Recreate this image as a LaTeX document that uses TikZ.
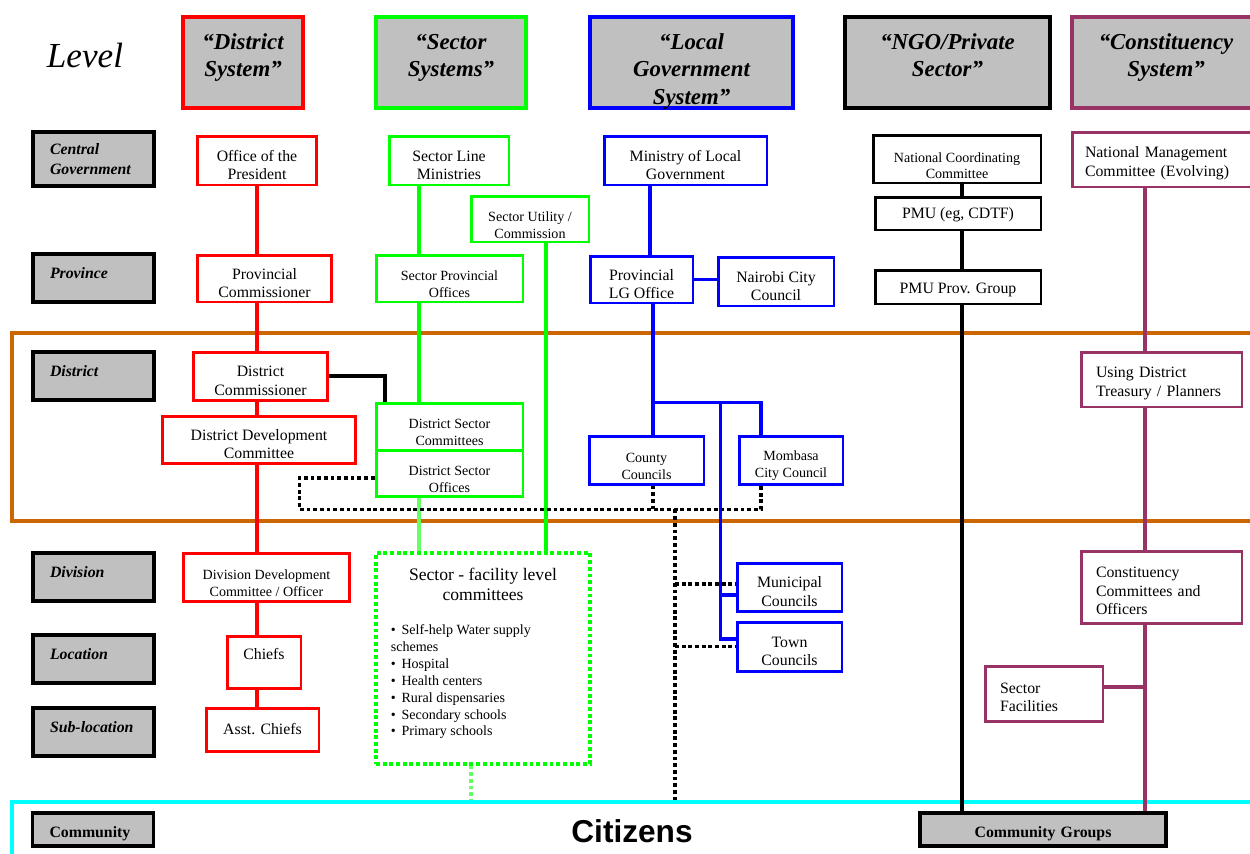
\documentclass[tikz,border=0pt]{standalone}
\usepackage{fontspec}
\setmainfont{Liberation Serif}
\newfontfamily\citfont{Liberation Sans}

\begin{document}
\begin{tikzpicture}[x=0.02cm, y=-0.02cm,
    hdr/.style={draw, line width=2.2pt, fill=hgray, minimum width=#1, minimum height=1.82cm},
    hdrtext/.style={align=center, font=\fontsize{13}{15.4}\selectfont\bfseries\itshape},
    lvl/.style={draw, line width=2pt, fill=hgray, text width=1.74cm, align=left, minimum width=2.42cm, minimum height=#1,
        font=\fontsize{9}{11.4}\selectfont\bfseries\itshape},
    lvlone/.style={lvl=#1, text height=7pt, text depth=6.7pt},
    orgbox/.style={draw, line width=1.7pt, fill=white, align=center, inner ysep=0pt, font=\fontsize{9}{10.6}\selectfont,
        execute at begin node={\rule{0pt}{22pt}}},
    smallbox/.style={orgbox, font=\fontsize{8}{9.7}\selectfont, execute at begin node={\rule{0pt}{17.6pt}}},
    onebox/.style={orgbox, execute at begin node={}},
    leftbox/.style={draw, line width=1.7pt, fill=white, align=left, font=\fontsize{9}{10.6}\selectfont,
        execute at begin node={\rule{0pt}{10.5pt}}},
    conn/.style={line width=1.9pt},
    dotline/.style={line width=1.8pt, dash pattern=on 2.2pt off 1.6pt}
]

    \definecolor{hgray}{RGB}{192,192,192}
    \definecolor{sgreen}{RGB}{0,255,0}
    \definecolor{lgreen}{RGB}{102,255,102}
    \definecolor{cpurple}{RGB}{153,51,102}
    \definecolor{corange}{RGB}{204,102,0}
    \definecolor{ccyan}{RGB}{0,255,255}
    \useasboundingbox (0,0) rectangle (1250,853);

    % district band
    \draw [line width=1.8pt, corange] (12,333) rectangle (1262,521);

    % headers
    \node (level) at (85,55) [font=\fontsize{20}{24}\selectfont\itshape] {Level};
    \node (hdist) at (243,62.5) [hdr=2.4cm, draw=red] {};
    \node (hsect) at (451,62.5) [hdr=3cm, draw=sgreen] {};
    \node (hloc) at (691.5,62.5) [hdr=4.06cm, draw=blue] {};
    \node (hngo) at (947.5,62.5) [hdr=4.1cm, draw=black] {};
    \node (hcon) at (1166,62.5) [hdr=3.76cm, draw=cpurple] {};
    \node (hdistt) at ([yshift=0.1cm]hdist.center) [hdrtext] {“District\\System”};
    \node (hsectt) at ([yshift=0.1cm]hsect.center) [hdrtext] {“Sector\\Systems”};
    \node (hloct) at ([yshift=-0.18cm]hloc.center) [hdrtext] {“Local\\Government\\System”};
    \node (hngot) at ([yshift=0.14cm]hngo.center) [hdrtext] {“NGO/Private\\Sector”};
    \node (hcont) at ([yshift=0.1cm]hcon.center) [hdrtext] {“Constituency\\System”};

    % levels
    \node (lcen) at (93.5,159) [lvl=1.08cm] {Central\\Government};
    \node (lprov) at (93.5,278) [lvlone=0.96cm] {Province};
    \node (ldist) at (93.5,376) [lvlone=0.96cm] {District};
    \node (ldiv) at (93.5,577) [lvlone=0.96cm] {Division};
    \node (lloc) at (93.5,659) [lvlone=0.96cm] {Location};
    \node (lsub) at (93.5,732) [lvlone=0.96cm] {Sub-location};

    % citizens
    \node (cit) at (637,831) [draw=ccyan, line width=2.3pt, minimum width=25cm, minimum height=1.16cm,
        font=\citfont\bfseries\fontsize{18}{20}\selectfont] {Citizens\hspace*{0.2cm}};
    \node (lcom) at (93,829.5) [lvl=0.66cm, text height=8.8pt, text depth=0pt,
        font=\fontsize{9}{11}\selectfont\bfseries] {Community};

    % district system
    \node (pres) at (257,160.5) [orgbox, draw=red, minimum width=2.4cm, minimum height=0.98cm] {Office of the\\President};
    \node (pcom) at (264.5,278.5) [orgbox, draw=red, minimum width=2.7cm, minimum height=0.94cm] {Provincial\\Commissioner};
    \node (dcom) at (260.5,376) [orgbox, draw=red, minimum width=2.7cm, minimum height=0.96cm] {District\\Commissioner};
    \node (ddc) at (259,439.5) [orgbox, draw=red, minimum width=3.88cm, minimum height=0.94cm] {District Development\\Committee};
    \node (divc) at (266.5,577) [smallbox, draw=red, minimum width=3.34cm, minimum height=0.96cm] {Division Development\\Committee / Officer};
    \node (chiefs) at (264,662) [onebox, draw=red, minimum width=1.48cm, minimum height=1.04cm,
        text height=7pt, text depth=10.1pt] {Chiefs};
    \node (asst) at (262.5,729.5) [onebox, draw=red, minimum width=2.26cm, minimum height=0.86cm,
        text height=7pt, text depth=1pt] {Asst. Chiefs};

    % sector systems
    \node (slm) at (449,160.5) [orgbox, draw=sgreen, minimum width=2.4cm, minimum height=0.98cm] {Sector Line\\Ministries};
    \node (sutil) at (530,219) [smallbox, draw=sgreen, minimum width=2.36cm, minimum height=0.92cm] {Sector Utility /\\Commission};
    \node (sprov) at (449.5,278.5) [smallbox, draw=sgreen, minimum width=2.94cm, minimum height=0.94cm] {Sector Provincial\\Offices};
    \node (dsc) at (449.5,426.5) [smallbox, draw=sgreen, minimum width=2.94cm, minimum height=0.94cm] {District Sector\\Committees};
    \node (dso) at (449.5,473) [smallbox, draw=sgreen, minimum width=2.94cm, minimum height=0.92cm] {District Sector\\Offices};
    \node (fac) at (483,658.5) [dotline, draw=sgreen, fill=white, minimum width=4.28cm, minimum height=4.22cm] {};
    \node (factitle) at ([yshift=-0.32cm]fac.north) [below, inner sep=0pt, align=center,
        font=\fontsize{10}{11.4}\selectfont] {Sector - facility level\\committees};
    \node (faclist) at ([xshift=0.32cm, yshift=-1.46cm]fac.north west) [below right, inner sep=0pt, align=left,
        font=\fontsize{8}{9.6}\selectfont] {\textbullet\ \,Self-help Water supply\\schemes\\\textbullet\ \,Hospital\\
        \textbullet\ \,Health centers\\\textbullet\ \,Rural dispensaries\\\textbullet\ \,Secondary schools\\\textbullet\ \,Primary schools};

    % local government system
    \node (mlg) at (685.5,160.5) [orgbox, draw=blue, minimum width=3.26cm, minimum height=0.98cm] {Ministry of Local\\Government};
    \node (plg) at (641.5,279.5) [orgbox, draw=blue, minimum width=2.06cm, minimum height=0.94cm] {Provincial\\LG Office};
    \node (nairobi) at (776,281.5) [orgbox, draw=blue, minimum width=2.32cm, minimum height=0.98cm] {Nairobi City\\Council};
    \node (county) at (646.5,460) [smallbox, draw=blue, minimum width=2.3cm, minimum height=0.96cm] {County\\Councils};
    \node (mombasa) at (791,460) [smallbox, draw=blue, minimum width=2.08cm, minimum height=0.96cm] {Mombasa\\City Council};
    \node (munic) at (789.5,587) [orgbox, draw=blue, minimum width=2.1cm, minimum height=0.96cm] {Municipal\\Councils};
    \node (town) at (789.5,646.5) [orgbox, draw=blue, minimum width=2.1cm, minimum height=0.98cm] {Town\\Councils};

    % ngo / private sector
    \node (ncc) at (957,159) [smallbox, draw=black, minimum width=3.36cm, minimum height=0.96cm,
        font=\fontsize{8}{9.1}\selectfont, execute at begin node={\rule{0pt}{15.3pt}}] {National Coordinating\\Committee};
    \node (pmu) at (958,213.5) [onebox, draw=black, minimum width=3.32cm, minimum height=0.66cm,
        text height=7pt, text depth=1pt] {PMU (eg, CDTF)};
    \node (pmup) at (958,287) [onebox, draw=black, minimum width=3.32cm, minimum height=0.68cm,
        text height=7pt, text depth=0pt] {PMU Prov. Group};
    \node (cgr) at (1043,829.5) [lvl=0.66cm, minimum width=4.92cm, text width=4.5cm, align=center,
        text height=8.8pt, text depth=0pt, font=\fontsize{9}{11}\selectfont\bfseries] {Community Groups};

    % constituency system
    \node (nmc) at (1167,159.5) [leftbox, draw=cpurple, minimum width=3.8cm, minimum height=1.1cm, text width=3.28cm] {National Management\\Committee (Evolving)};
    \node (udt) at (1161.5,379.5) [leftbox, draw=cpurple, minimum width=3.22cm, minimum height=1.1cm, text width=2.62cm] {Using District\\Treasury / Planners};
    \node (ccom) at (1161.5,587) [leftbox, draw=cpurple, minimum width=3.22cm, minimum height=1.44cm, text width=2.62cm] {Constituency\\Committees and\\Officers};
    \node (sfac) at (1044,693.5) [leftbox, draw=cpurple, minimum width=2.36cm, minimum height=1.1cm, text width=1.76cm,
        execute at begin node={}] {Sector\\Facilities};

    % district system links
    \draw [conn, red] (pres.south) -- (pres.south |- pcom.north);
    \draw [conn, red] (pres.south |- pcom.south) -- (pres.south |- dcom.north);
    \draw [conn, red] (pres.south |- dcom.south) -- (pres.south |- ddc.north);
    \draw [conn, red] (pres.south |- ddc.south) -- (pres.south |- divc.north);
    \draw [conn, red] (pres.south |- divc.south) -- (pres.south |- chiefs.north);
    \draw [conn, red] (pres.south |- chiefs.south) -- (pres.south |- asst.north);
    \draw [conn] (dcom.east) -| ([xshift=-1.29cm]dsc.north);

    % sector links
    \coordinate (gx) at ([xshift=-0.6cm]slm.south);
    \coordinate (ux) at ([xshift=0.32cm]sutil.south);
    \coordinate (fx) at ([xshift=-0.24cm]fac.south);
    \draw [conn, sgreen] (gx) -- (gx |- sprov.north);
    \draw [conn, sgreen] (gx |- sprov.south) -- (gx |- dsc.north);
    \draw [conn, sgreen] (ux) -- (ux |- fac.north);
    \draw [conn, lgreen] (gx |- dso.south) -- (gx |- fac.north);
    \draw [dotline, lgreen] (fx) -- (fx |- cit.north);

    % local government links
    \coordinate (mx) at ([xshift=-0.71cm]mlg.south);
    \coordinate (bl) at ([xshift=0.13cm, yshift=0.64cm]county.north);
    \coordinate (br) at ([xshift=-0.6cm, yshift=0.64cm]mombasa.north);
    \coordinate (bv) at ([xshift=-0.3cm]munic.west);
    \coordinate (mw) at ([yshift=-0.16cm]munic.west);
    \coordinate (tw) at ([yshift=0.15cm]town.west);
    \draw [conn, blue] (mx) -- (mx |- plg.north);
    \draw [conn, blue] (plg.east) -- (plg.east -| nairobi.west);
    \draw [conn, blue] (bl |- plg.south) -- (bl) -- (br) -- (br |- mombasa.north);
    \draw [conn, blue] (bl) -- (bl |- county.north);
    \draw [conn, blue] (bv |- bl) |- (tw);
    \draw [conn, blue] (bv |- mw) -- (mw);

    % informal links
    \coordinate (dl) at ([xshift=0.13cm, yshift=-0.48cm]county.south);
    \coordinate (ds) at ([yshift=-0.1cm]dso.west);
    \coordinate (dk) at ([xshift=-1.5cm]ds);
    \coordinate (dv) at ([xshift=0.44cm]dl);
    \coordinate (md) at ([yshift=0.06cm]munic.west);
    \draw [dotline] (ds) -- (dk) -- (dk |- dl) -- (br |- dl) -- (br |- mombasa.south);
    \draw [dotline] (bl |- county.south) -- (dl);
    \draw [dotline] (dv) -- (dv |- cit.north);
    \draw [dotline] (dv |- md) -- (md);
    \draw [dotline] (dv |- town.west) -- (town.west);

    % ngo links
    \coordinate (nx) at ([xshift=0.1cm]ncc.south);
    \draw [conn] (nx) -- (nx |- pmu.north);
    \draw [conn] (nx |- pmu.south) -- (nx |- pmup.north);
    \draw [conn] (nx |- pmup.south) -- (nx |- cgr.north);

    % constituency links
    \coordinate (px) at ([xshift=-0.33cm]udt.north);
    \coordinate (se) at ([yshift=0.13cm]sfac.east);
    \draw [conn, cpurple] (px |- nmc.south) -- (px);
    \draw [conn, cpurple] (px |- udt.south) -- (px |- ccom.north);
    \draw [conn, cpurple] (px |- ccom.south) -- (px |- cgr.north);
    \draw [conn, cpurple] (se) -- (se -| px);

\end{tikzpicture}
\end{document}
